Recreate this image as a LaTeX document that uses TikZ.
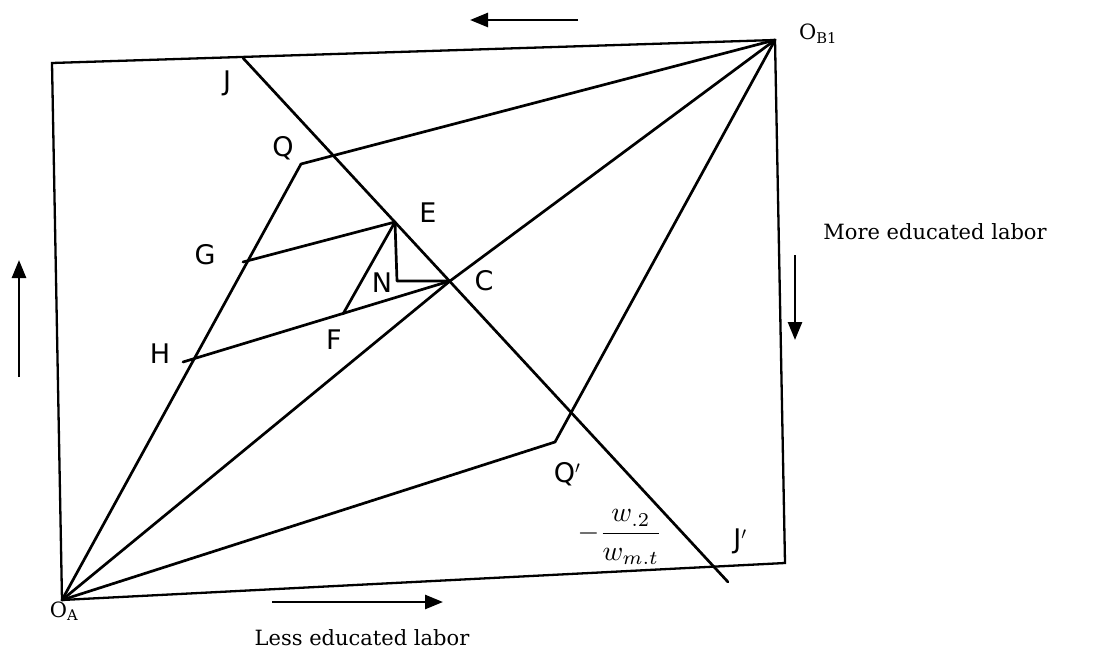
\documentclass[tikz,border=0pt]{standalone}
\usepackage{fontspec}
\setmainfont{DejaVu Serif}
\newfontfamily\hand{DejaVu Sans}
\usetikzlibrary{arrows.meta}
\begin{document}
\begin{tikzpicture}[x=1pt,y=-1pt,
  thick line/.style={line width=2.7pt, line join=round, line cap=round},
  box line/.style={line width=2.3pt},
  hlabel/.style={font=\hand\fontsize{27}{29}\selectfont, inner sep=0pt},
  tlabel/.style={font=\fontsize{21}{24}\selectfont, inner sep=0pt},
  dirarrow/.style={line width=2.6pt, -{Triangle[length=18pt,width=14pt]}}]
\useasboundingbox (0,0) rectangle (1110,655);
% corners
\coordinate (OA) at (62,600);
\coordinate (TL) at (52,63);
\coordinate (OB) at (775,40);
\coordinate (BR) at (785,563);
% points
\coordinate (J) at (243,58);
\coordinate (Jp) at (728,582);
\coordinate (Q) at (301,164);
\coordinate (Qp) at (555,442);
\coordinate (E) at (395,222);
\coordinate (C) at (450,281);
\coordinate (Nc) at (397,281);
\coordinate (G) at (243,262);
\coordinate (H) at (183,362);
\coordinate (F) at (343,314);
% box
\draw[box line] (OA) -- (TL) -- (OB) -- (BR) -- cycle;
% contract lines
\draw[thick line] (OA) -- (Q) -- (OB);
\draw[thick line] (OA) -- (Qp) -- (OB);
\draw[thick line] (OA) -- (C) -- (OB);
\draw[thick line] (J) -- (Jp);
\draw[thick line] (G) -- (E) -- (F);
\draw[thick line] (H) -- (C);
\draw[thick line] (E) -- (Nc) -- (C);
% labels
\node[hlabel] (lJ) at (227,83) {J};
\node[hlabel] (lQ) at (283,148) {Q};
\node[hlabel] (lE) at (428,213) {E};
\node[hlabel] (lG) at (205,255) {G};
\node[hlabel] (lN) at (382,283) {N};
\node[hlabel] (lC) at (484,281) {C};
\node[hlabel] (lH) at (160,354) {H};
\node[hlabel] (lF) at (334,340) {F};
\node[hlabel] (lQp) at (567,474) {Q$'$};
\node[hlabel] (lJp) at (740,541) {J$'$};
\node[inner sep=0pt] (frac) at (620,537) {\scalebox{2.8}{$-{\displaystyle\frac{w_{.2}}{w_{m.t}}}$}};
\node[tlabel] (lOA) at (64,611) {O\textsubscript{A}};
\node[tlabel] (lOB) at (818,34) {O\textsubscript{B1}};
\node[tlabel] (more) at (935,232) {More educated labor};
\node[tlabel] (less) at (362,638) {Less educated labor};
% direction arrows
\coordinate (a1s) at (578,20); \coordinate (a1e) at (470,20);
\coordinate (a2s) at (272,602); \coordinate (a2e) at (443,602);
\coordinate (a3s) at (19,377); \coordinate (a3e) at (19,260);
\coordinate (a4s) at (795,255); \coordinate (a4e) at (795,340);
\draw[dirarrow] (a1s) -- (a1e);
\draw[dirarrow] (a2s) -- (a2e);
\draw[dirarrow] (a3s) -- (a3e);
\draw[dirarrow] (a4s) -- (a4e);
\end{tikzpicture}
\end{document}
